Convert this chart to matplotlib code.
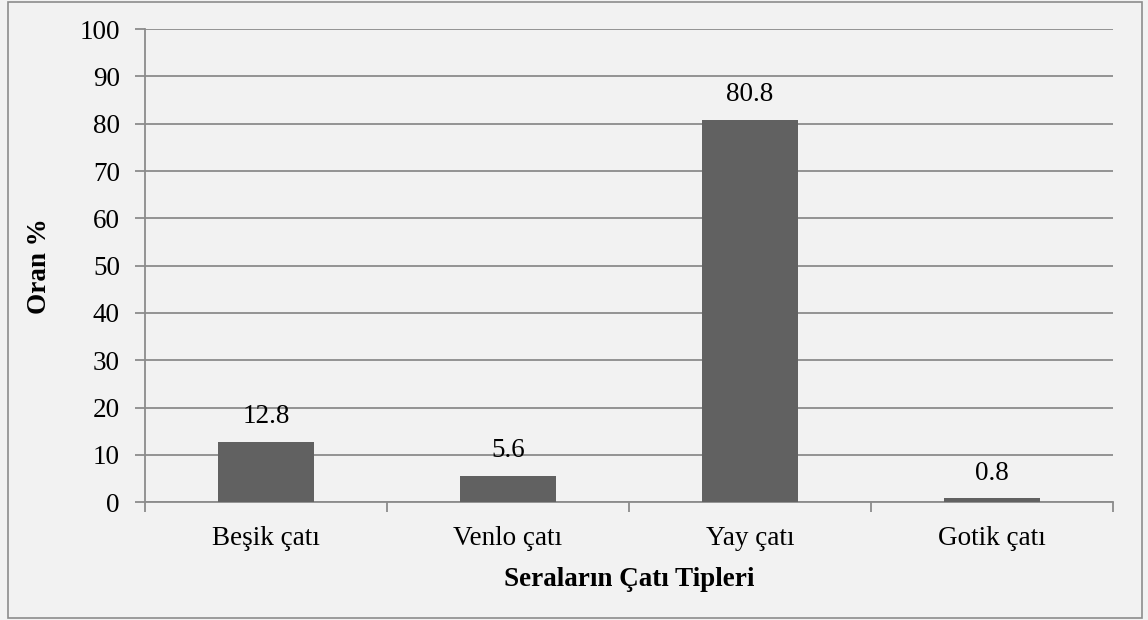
import matplotlib
matplotlib.use("Agg")
import matplotlib.pyplot as plt
from matplotlib.patches import Rectangle

categories = ["Beşik çatı", "Venlo çatı", "Yay çatı", "Gotik çatı"]
oran = [12.8, 5.6, 80.8, 0.8]
yticks = list(range(0, 101, 10))

plt.rcParams['font.family'] = ['Liberation Serif', 'DejaVu Serif']

grey = "#8c8c8c"
bg = "#f2f2f2"

fig = plt.figure(figsize=(11.48, 6.2), dpi=100, facecolor=bg)
ax = fig.add_axes([0.1263, 0.190, 0.8432, 0.763])
ax.set_facecolor(bg)

# outer frame around the whole chart
fig.patches.append(Rectangle((8 / 1148, 2 / 620), 1134 / 1148, 616 / 620,
                             transform=fig.transFigure, fill=False,
                             edgecolor=grey, linewidth=1.2))

x = range(len(categories))
bars = ax.bar(x, oran, width=0.4, color="#616161", zorder=3)
for b, v in zip(bars, oran):
    ax.annotate(f"{v}", (b.get_x() + b.get_width() / 2, v),
                xytext=(0, 9), textcoords="offset points",
                ha="center", va="bottom", fontsize=19.5, color="black")

ax.set_xlim(-0.5, len(categories) - 0.5)
ax.set_ylim(0, 100)
ax.set_yticks(yticks)
ax.yaxis.grid(True, color=grey, linewidth=1.3, zorder=0)
ax.set_axisbelow(True)

ax.set_xticks(list(x))
ax.set_xticklabels(categories)
ax.set_xticks([i - 0.5 for i in range(len(categories) + 1)], minor=True)
ax.tick_params(axis="x", which="major", length=0, pad=17, labelsize=19.5)
ax.tick_params(axis="x", which="minor", length=7, width=1.3, color=grey, direction="out")
ax.tick_params(axis="y", length=7, width=1.3, color=grey, labelsize=19.5, pad=11)

for side in ["top", "right"]:
    ax.spines[side].set_visible(False)
for side in ["left", "bottom"]:
    ax.spines[side].set_color(grey)
    ax.spines[side].set_linewidth(1.3)

ax.set_xlabel("Seraların Çatı Tipleri", fontsize=19.5, fontweight="bold", labelpad=12)
ax.set_ylabel("Oran %", fontsize=19.5, fontweight="bold", labelpad=20)

fig.savefig("out.png", dpi=100, facecolor=bg)
